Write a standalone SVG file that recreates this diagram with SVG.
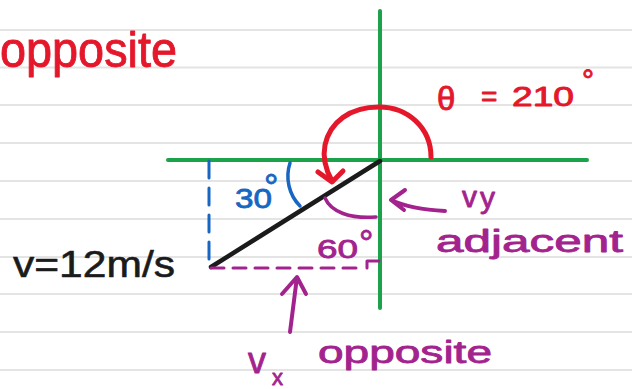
<svg xmlns="http://www.w3.org/2000/svg" width="632" height="389" viewBox="0 0 632 389">
  <style>
    .paper { stroke: #e4e4e4; stroke-width: 2; }
    .ink { fill: none; stroke-linecap: round; stroke-linejoin: round; }
    .axis { stroke: #1ca24a; stroke-width: 4; }
    .red { stroke: #e4172b; }
    .purple { stroke: #a3238e; }
    .blue { stroke: #1766c2; }
    .black { stroke: #1b1b1b; }
    text { font-family: "Liberation Sans", Arial, sans-serif; stroke-linejoin: round; }
    .tRed { fill: #e4172b; stroke: #e4172b; stroke-width: 0.9; }
    .tPurple { fill: #a3238e; stroke: #a3238e; stroke-width: 0.8; }
    .tBlue { fill: #1766c2; stroke: #1766c2; stroke-width: 0.8; }
    .tBlack { fill: #1b1b1b; stroke: #1b1b1b; stroke-width: 0.6; }
  </style>
  <rect width="632" height="389" fill="#ffffff"/>
  <g id="paper-lines" class="paper">
    <line x1="0" y1="30" x2="632" y2="30"/>
    <line x1="0" y1="67.5" x2="632" y2="67.5"/>
    <line x1="0" y1="105" x2="632" y2="105"/>
    <line x1="0" y1="143" x2="632" y2="143"/>
    <line x1="0" y1="181" x2="632" y2="181"/>
    <line x1="0" y1="219" x2="632" y2="219"/>
    <line x1="0" y1="257" x2="632" y2="257"/>
    <line x1="0" y1="294" x2="632" y2="294"/>
    <line x1="0" y1="332" x2="632" y2="332"/>
    <line x1="0" y1="370" x2="632" y2="370"/>
  </g>
  <g id="axes" class="ink axis">
    <line x1="168" y1="160" x2="587" y2="160"/>
    <line x1="380" y1="11" x2="380" y2="308"/>
  </g>
  <g id="connectors" class="ink">
    <line id="velocity-vector" class="black" x1="380" y1="161" x2="211" y2="267" stroke-width="4.5"/>
    <line id="vy-component" class="blue" x1="209" y1="161" x2="209" y2="268" stroke-width="3" stroke-dasharray="17 10"/>
    <line id="vx-component" class="purple" x1="211" y1="268" x2="364" y2="268" stroke-width="3" stroke-dasharray="13 9"/>
    <path id="right-angle" class="purple" d="M367,268 L367,261 L379,261" stroke-width="3"/>
    <path id="theta-arc" class="red" d="M431,157 C431,128 408,107 379,107 C350,107 330,122 325,145 C322,160 327,172 332,181" stroke-width="5"/>
    <path id="theta-arrowhead" class="red" d="M318,172 L332,182 L343,171" stroke-width="5"/>
    <path id="arc-30" class="blue" d="M290,163 C285,178 289,195 300,206" stroke-width="3.5"/>
    <path id="arc-60" class="purple" d="M325,198 C331,212 350,219 376,217" stroke-width="3.5"/>
    <path id="vy-arrow" class="purple" d="M445,211 C426,210 406,207 391,200 M405,190 L391,200 L404,210" stroke-width="4"/>
    <path id="vx-arrow" class="purple" d="M290,332 L297,277 M282,294 L297,277 L306,294" stroke-width="4"/>
  </g>
  <g id="label-opposite-top">
    <text class="tRed" x="0" y="67" font-size="50" textLength="177" lengthAdjust="spacingAndGlyphs">opposite</text>
  </g>
  <g id="label-theta">
    <text class="tRed" font-size="28"><tspan x="437" y="110" font-size="33">θ</tspan><tspan x="481" y="106">=</tspan><tspan x="512" y="106" textLength="62" lengthAdjust="spacingAndGlyphs">210</tspan><tspan x="582" y="90" font-size="30">°</tspan></text>
  </g>
  <g id="label-30">
    <text class="tBlue" font-size="28"><tspan x="235" y="208" textLength="37" lengthAdjust="spacingAndGlyphs">30</tspan><tspan x="264" y="200" font-size="36">°</tspan></text>
  </g>
  <g id="label-60">
    <text class="tPurple" font-size="26"><tspan x="317" y="258" textLength="41" lengthAdjust="spacingAndGlyphs">60</tspan><tspan x="359" y="256" font-size="36">°</tspan></text>
  </g>
  <g id="label-speed">
    <text class="tBlack" x="13" y="277" font-size="36" textLength="162" lengthAdjust="spacingAndGlyphs">v=12m/s</text>
  </g>
  <g id="label-vy">
    <text class="tPurple" font-size="30"><tspan x="462" y="207">v</tspan><tspan x="480" y="208">y</tspan></text>
  </g>
  <g id="label-adjacent">
    <text class="tPurple" x="436" y="252" font-size="31" textLength="187" lengthAdjust="spacingAndGlyphs">adjacent</text>
  </g>
  <g id="label-vx">
    <text class="tPurple"><tspan x="248" y="373" font-size="36">v</tspan><tspan x="272" y="385" font-size="22">x</tspan></text>
  </g>
  <g id="label-opposite-bottom">
    <text class="tPurple" x="318" y="363" font-size="31" textLength="174" lengthAdjust="spacingAndGlyphs">opposite</text>
  </g>
</svg>
